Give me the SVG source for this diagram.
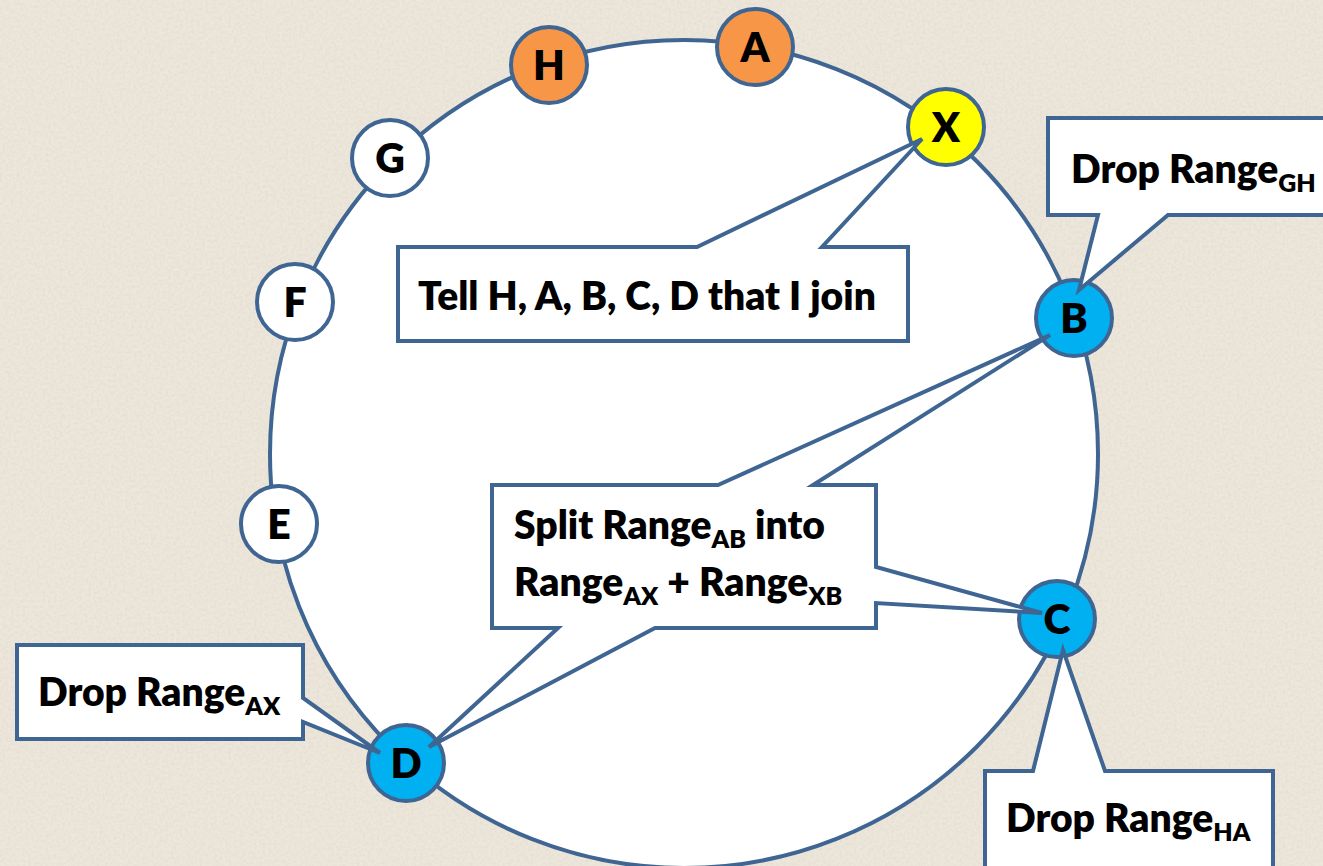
<svg xmlns="http://www.w3.org/2000/svg" width="1323" height="866" viewBox="0 0 1323 866">
  <defs>
    <filter id="paper" x="0" y="0" width="100%" height="100%">
      <feTurbulence type="fractalNoise" baseFrequency="0.35" numOctaves="3" seed="7" result="n"/>
      <feColorMatrix in="n" type="matrix" values="0 0 0 0 0.60  0 0 0 0 0.55  0 0 0 0 0.47  0 0 0 0.45 -0.16"/>
    </filter>
    <style>
      .ring { fill: #FFFFFF; stroke: #3F6592; stroke-width: 4; }
      .node { stroke: #3F6592; stroke-width: 4; }
      .orange { fill: #F79646; }
      .yellow { fill: #FFFF00; }
      .blue { fill: #00B0F0; }
      .white { fill: #FFFFFF; }
      .callout { fill: #FFFFFF; stroke: #3F6592; stroke-width: 4; stroke-linejoin: miter; }
      .lbl { font-family: Lato, "Open Sans", "Liberation Sans", sans-serif; font-weight: 800; fill: #000000; }
      .letter { font-size: 41px; text-anchor: middle; }
      .txt { font-size: 39px; }
      .sub { font-size: 25px; }
    </style>
  </defs>

  <!-- paper background -->
  <rect width="1323" height="866" fill="#EDE6DB"/>
  <rect width="1323" height="866" filter="url(#paper)"/>

  <!-- ring connecting the nodes -->
  <g id="connectors">
    <circle class="ring" cx="684" cy="454" r="414"/>
  </g>

  <!-- ring nodes -->
  <g id="node-H"><circle class="node orange" cx="549" cy="65" r="38"/><text class="lbl letter" x="549" y="80">H</text></g>
  <g id="node-A"><circle class="node orange" cx="755" cy="47" r="38"/><text class="lbl letter" x="755" y="62">A</text></g>
  <g id="node-X"><circle class="node yellow" cx="946" cy="127" r="38"/><text class="lbl letter" x="946" y="142">X</text></g>
  <g id="node-B"><circle class="node blue" cx="1074" cy="318" r="38"/><text class="lbl letter" x="1074" y="333">B</text></g>
  <g id="node-C"><circle class="node blue" cx="1057" cy="619" r="38"/><text class="lbl letter" x="1057" y="634">C</text></g>
  <g id="node-D"><circle class="node blue" cx="406" cy="763" r="38"/><text class="lbl letter" x="406" y="778">D</text></g>
  <g id="node-E"><circle class="node white" cx="279" cy="524" r="38"/><text class="lbl letter" x="279" y="539">E</text></g>
  <g id="node-F"><circle class="node white" cx="295" cy="302" r="38"/><text class="lbl letter" x="295" y="317">F</text></g>
  <g id="node-G"><circle class="node white" cx="390" cy="158" r="38"/><text class="lbl letter" x="390" y="173">G</text></g>

  <!-- callout from X -->
  <g id="callout-join">
    <path class="callout" d="M398,247 H697 L922,139 L822,247 H908 V341 H398 Z"/>
    <text class="lbl txt" x="418" y="310">Tell H, A, B, C, D that I join</text>
  </g>

  <!-- callout on B -->
  <g id="callout-drop-gh">
    <path class="callout" d="M1048,118 H1335 V215 H1168 L1079,290 L1098,215 H1048 Z"/>
    <text class="lbl txt" x="1071" y="183">Drop Range<tspan class="sub" dy="9">GH</tspan></text>
  </g>

  <!-- split callout pointing to B, C and D -->
  <g id="callout-split">
    <path class="callout" d="M492,485 H718 L1050,335 L813,485 H876 V567 L1042,613 L876,603 V628 H655 L429,747 L558,628 H492 Z"/>
    <text class="lbl txt" x="514" y="539">Split Range<tspan class="sub" dy="9">AB</tspan><tspan dy="-9"> into</tspan></text>
    <text class="lbl txt" x="514" y="596">Range<tspan class="sub" dy="9">AX</tspan><tspan dy="-9"> + Range</tspan><tspan class="sub" dy="9">XB</tspan></text>
  </g>

  <!-- callout on D -->
  <g id="callout-drop-ax">
    <path class="callout" d="M17,645 H303 V698 L380,753 L303,722 V739 H17 Z"/>
    <text class="lbl txt" x="38" y="706">Drop Range<tspan class="sub" dy="9">AX</tspan></text>
  </g>

  <!-- callout on C -->
  <g id="callout-drop-ha">
    <path class="callout" d="M985,771 H1033 L1063,650 L1105,771 H1273 V880 H985 Z"/>
    <text class="lbl txt" x="1006" y="832">Drop Range<tspan class="sub" dy="9">HA</tspan></text>
  </g>
</svg>
